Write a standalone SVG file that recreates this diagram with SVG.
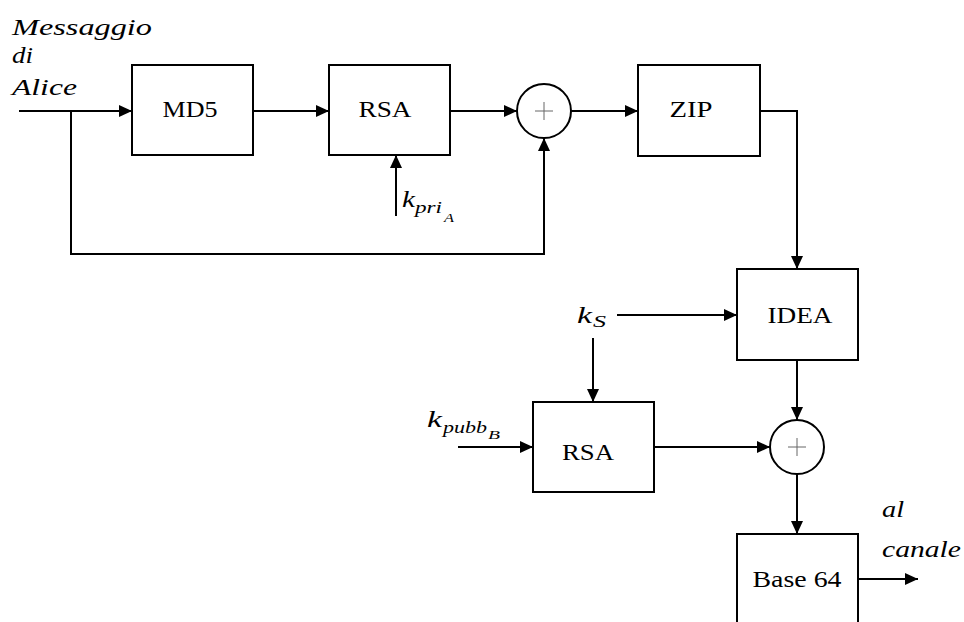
<svg xmlns="http://www.w3.org/2000/svg" width="964" height="622" viewBox="0 0 964 622">
<style>
.box{fill:#fff;stroke:#000;stroke-width:2}
.circ{fill:#fff;stroke:#000;stroke-width:2}
.plus{stroke:#666;stroke-width:1;fill:none}
.wire{fill:none;stroke:#000;stroke-width:2}
text{font-family:"Liberation Serif",serif;fill:#000}
.lbl{font-size:24px}
.it{font-style:italic;font-size:24px}
.sub{font-style:italic;font-size:16px}
.sub2{font-style:italic;font-size:12px}
</style>
<defs>
<marker id="arr" markerUnits="userSpaceOnUse" markerWidth="14" markerHeight="12" refX="13" refY="6" orient="auto">
<path d="M0,0 L13,6 L0,12 Z" fill="#000"/>
</marker>
</defs>
<rect width="964" height="622" fill="#fff"/>
<g id="connectors">
<path class="wire" d="M19,111 H132" marker-end="url(#arr)"/>
<path class="wire" d="M71,111 V254 H544 V138" marker-end="url(#arr)"/>
<path class="wire" d="M253,111 H329" marker-end="url(#arr)"/>
<path class="wire" d="M450,111 H517" marker-end="url(#arr)"/>
<path class="wire" d="M396,216 V155" marker-end="url(#arr)"/>
<path class="wire" d="M571,111 H638" marker-end="url(#arr)"/>
<path class="wire" d="M760,111 H797 V269" marker-end="url(#arr)"/>
<path class="wire" d="M617,315 H737" marker-end="url(#arr)"/>
<path class="wire" d="M593,338 V402" marker-end="url(#arr)"/>
<path class="wire" d="M458,447 H533" marker-end="url(#arr)"/>
<path class="wire" d="M654,447 H770" marker-end="url(#arr)"/>
<path class="wire" d="M797,360 V420" marker-end="url(#arr)"/>
<path class="wire" d="M797,474 V534" marker-end="url(#arr)"/>
<path class="wire" d="M858,579 H918" marker-end="url(#arr)"/>
</g>
<g id="md5">
<rect class="box" x="132" y="65" width="121" height="90"/>
<text class="lbl" x="190" y="117" text-anchor="middle" textLength="55" lengthAdjust="spacingAndGlyphs">MD5</text>
</g>
<g id="rsa1">
<rect class="box" x="329" y="65" width="121" height="90"/>
<text class="lbl" x="385" y="117" text-anchor="middle" textLength="53" lengthAdjust="spacingAndGlyphs">RSA</text>
</g>
<g id="sum1">
<circle class="circ" cx="544" cy="111" r="27"/>
<path class="plus" d="M535,111 H553 M544,102 V120"/>
</g>
<g id="zip">
<rect class="box" x="638" y="65" width="122" height="91"/>
<text class="lbl" x="691" y="117" text-anchor="middle" textLength="43" lengthAdjust="spacingAndGlyphs">ZIP</text>
</g>
<g id="idea">
<rect class="box" x="737" y="269" width="121" height="91"/>
<text class="lbl" x="800" y="323" text-anchor="middle" textLength="65" lengthAdjust="spacingAndGlyphs">IDEA</text>
</g>
<g id="rsa2">
<rect class="box" x="533" y="402" width="121" height="90"/>
<text class="lbl" x="588" y="460" text-anchor="middle" textLength="52" lengthAdjust="spacingAndGlyphs">RSA</text>
</g>
<g id="sum2">
<circle class="circ" cx="797" cy="447" r="27"/>
<path class="plus" d="M788,447 H806 M797,438 V456"/>
</g>
<g id="base64">
<rect class="box" x="737" y="534" width="121" height="110"/>
<text class="lbl" x="797" y="587" text-anchor="middle" textLength="89" lengthAdjust="spacingAndGlyphs">Base 64</text>
</g>
<g id="labels">
<text class="it" x="12" y="35" textLength="140" lengthAdjust="spacingAndGlyphs">Messaggio</text>
<text class="it" x="12" y="63" textLength="21" lengthAdjust="spacingAndGlyphs">di</text>
<text class="it" x="12" y="95" textLength="65" lengthAdjust="spacingAndGlyphs">Alice</text>
<text class="it" x="402" y="207" textLength="13" lengthAdjust="spacingAndGlyphs">k</text>
<text class="sub" x="415" y="213" textLength="27" lengthAdjust="spacingAndGlyphs">pri</text>
<text class="sub2" x="444" y="222" textLength="10" lengthAdjust="spacingAndGlyphs">A</text>
<text class="it" x="577" y="323" textLength="15" lengthAdjust="spacingAndGlyphs">k</text>
<text class="sub" x="593" y="327" textLength="13" lengthAdjust="spacingAndGlyphs">S</text>
<text class="it" x="427" y="427" textLength="15" lengthAdjust="spacingAndGlyphs">k</text>
<text class="sub" x="443" y="433" textLength="44" lengthAdjust="spacingAndGlyphs">pubb</text>
<text class="sub2" x="488" y="439" textLength="12" lengthAdjust="spacingAndGlyphs">B</text>
<text class="it" x="882" y="517" textLength="22" lengthAdjust="spacingAndGlyphs">al</text>
<text class="it" x="882" y="557" textLength="79" lengthAdjust="spacingAndGlyphs">canale</text>
</g>
</svg>
